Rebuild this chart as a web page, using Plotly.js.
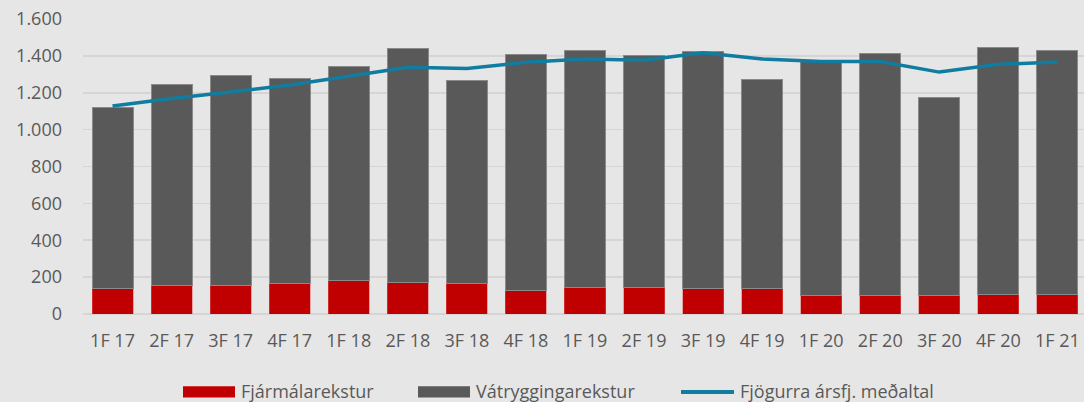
<!DOCTYPE html>
<html>
<head>
<meta charset="utf-8">
<script src="https://cdn.plot.ly/plotly-3.0.1.min.js"></script>
<style>html,body{margin:0;padding:0;background:#e7e6e6;}#chart{width:1084px;height:402px;}</style>
</head>
<body>
<div id="chart"></div>
<script>
const categories = ['1F 17','2F 17','3F 17','4F 17','1F 18','2F 18','3F 18','4F 18','1F 19','2F 19','3F 19','4F 19','1F 20','2F 20','3F 20','4F 20','1F 21'];
const fjarmalarekstur = [141,152,157,163,181,172,166,128,143,143,141,138,103,103,98,108,105];
const vatryggingarekstur = [979,1094,1138,1117,1159,1267,1098,1280,1285,1260,1282,1133,1265,1311,1077,1337,1323];
const medaltal = [1128,1169,1204,1242,1289,1338,1331,1365,1383,1376,1417,1383,1370,1370,1312,1354,1367];
const seriesNames = ['Fjármálarekstur','Vátryggingarekstur','Fjögurra ársfj. meðaltal'];
const yTicks = [0,200,400,600,800,1000,1200,1400,1600];

const FONT = '"Open Sans", Lato, sans-serif';
const TXT = '#595959';
const FS = 18;
const L = 83, R = 1084, T = 19, B = 313.7;
const px = x => (x - L) / (R - L);
const py = y => (B - y) / (B - T);

const traces = [
  {type:'bar', x:categories, y:fjarmalarekstur, name:seriesNames[0],
   marker:{color:'#c00000', line:{color:'rgba(230,90,90,0.6)', width:0.8}}, hoverinfo:'y'},
  {type:'bar', x:categories, y:vatryggingarekstur, name:seriesNames[1],
   marker:{color:'#595959', line:{color:'#8a8a8a', width:1}}, hoverinfo:'y'},
  {type:'scatter', mode:'lines', x:categories, y:medaltal, name:seriesNames[2],
   line:{color:'#0f7ca0', width:3.5}, hoverinfo:'y'}
];

const legendItems = [
  {x0:183, x1:235, tx:239, kind:'rect', color:'#c00000'},
  {x0:418, x1:470, tx:474, kind:'rect', color:'#595959'},
  {x0:681, x1:734, tx:738, kind:'line', color:'#0f7ca0'}
];
const shapes = [];
const annotations = [];
legendItems.forEach((it, i) => {
  if (it.kind === 'rect') {
    shapes.push({type:'rect', xref:'paper', yref:'paper', x0:px(it.x0), x1:px(it.x1), y0:py(397), y1:py(386),
      fillcolor:it.color, line:{width:0}});
  } else {
    shapes.push({type:'line', xref:'paper', yref:'paper', x0:px(it.x0), x1:px(it.x1), y0:py(391.5), y1:py(391.5),
      line:{color:it.color, width:4}});
  }
  annotations.push({xref:'paper', yref:'paper', x:px(it.tx), y:py(391), xanchor:'left', yanchor:'middle',
    text:seriesNames[i], showarrow:false, font:{family:FONT, size:FS, color:TXT}});
});

const layout = {
  width:1084, height:402,
  margin:{l:L, r:1084-R, t:T, b:402-B},
  paper_bgcolor:'#e7e6e6', plot_bgcolor:'#e7e6e6',
  barmode:'stack', bargap:0.305,
  separators:',.',
  showlegend:false,
  font:{family:FONT, size:FS, color:TXT},
  xaxis:{type:'category', range:[-0.5, 16.45], showgrid:false, zeroline:false, showline:false,
    ticks:'', tickfont:{family:FONT, size:FS, color:TXT}, ticklabelstandoff:14, fixedrange:true},
  yaxis:{range:[0,1600], tickvals:yTicks, tickformat:',d', showgrid:true, gridcolor:'#d6d5d5', gridwidth:1.6,
    zeroline:true, zerolinecolor:'#d6d5d5', zerolinewidth:1.6, showline:false, ticks:'',
    tickfont:{family:FONT, size:FS, color:TXT}, ticklabelstandoff:20, fixedrange:true},
  shapes:shapes, annotations:annotations
};

Plotly.newPlot('chart', traces, layout, {displayModeBar:false, staticPlot:true});
</script>
</body>
</html>
